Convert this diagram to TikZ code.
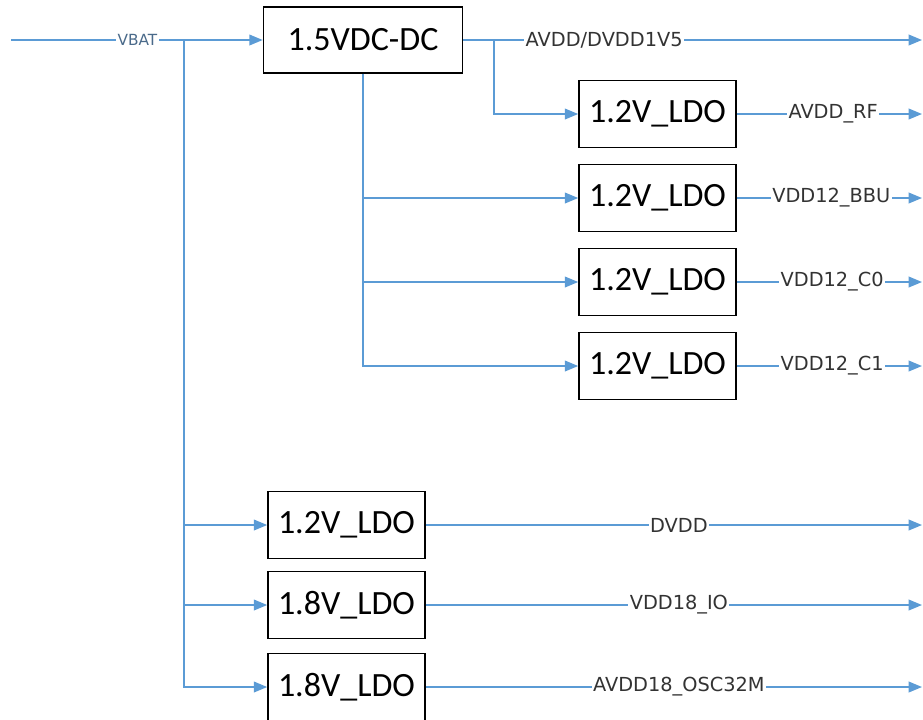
\documentclass[tikz,border=0pt]{standalone}
\usepackage{fontspec}
\setmainfont{Carlito}
\newfontfamily\labelfont{DejaVu Sans}
\usetikzlibrary{arrows.meta}
\definecolor{wirec}{HTML}{5B9BD5}
\definecolor{vbatc}{HTML}{4A6A8A}
\begin{document}
\begin{tikzpicture}[x=0.75pt,y=-0.75pt,
  blk/.style={draw=black, line width=1.2pt, inner sep=0pt, font=\fontsize{25.5}{28}\selectfont},
  dcbox/.style={blk, minimum width=149.25pt, minimum height=49.5pt},
  ldobox/.style={blk, minimum width=117.75pt, minimum height=50.5pt},
  wire/.style={draw=wirec, line width=1.2pt},
  arr/.style={wire, -{Triangle[length=10pt,width=8pt]}},
  lbl/.style={fill=white, inner sep=1pt, text=black!80, font=\labelfont\fontsize{14.5}{17}\selectfont},
  vlbl/.style={fill=white, inner sep=1pt, text=vbatc, font=\labelfont\fontsize{11.5}{14}\selectfont}
]
\useasboundingbox (0,0) rectangle (923,719);

% blocks
\node[dcbox] (dcdc) at (363,40) {1.5VDC-DC};
\node[ldobox] (ldo1) at (657.5,114) {1.2V\_LDO};
\node[ldobox] (ldo2) at (657.5,198) {1.2V\_LDO};
\node[ldobox] (ldo3) at (657.5,282) {1.2V\_LDO};
\node[ldobox] (ldo4) at (657.5,366) {1.2V\_LDO};
\node[ldobox] (ldo5) at (346.5,525) {1.2V\_LDO};
\node[ldobox] (ldo6) at (346.5,605) {1.8V\_LDO};
\node[ldobox] (ldo7) at (346.5,687) {1.8V\_LDO};

% coordinates
\coordinate (vin) at (11,40);
\coordinate (jv) at (184,40);
\coordinate (jd) at (494,40);
\coordinate (o0) at (922,40);
\coordinate (o1) at (922,114);
\coordinate (o2) at (922,198);
\coordinate (o3) at (922,282);
\coordinate (o4) at (922,366);
\coordinate (o5) at (922,525);
\coordinate (o6) at (922,605);
\coordinate (o7) at (922,687);

% VBAT input
\draw[arr] (vin) -- node[vlbl, pos=0.502] {VBAT} (dcdc.west);
\draw[arr] (jv) |- (ldo5.west);
\draw[arr] (jv) |- (ldo6.west);
\draw[arr] (jv) |- (ldo7.west);

% DC-DC outputs
\draw[arr] (dcdc.east) -- node[lbl, pos=0.307] {AVDD/DVDD1V5} (o0);
\draw[arr] (jd) |- (ldo1.west);
\draw[arr] (dcdc.south) |- (ldo2.west);
\draw[arr] (dcdc.south) |- (ldo3.west);
\draw[arr] (dcdc.south) |- (ldo4.west);

% LDO outputs
\draw[arr] (ldo1.east) -- node[lbl, pos=0.52] {AVDD\_RF} (o1);
\draw[arr] (ldo2.east) -- node[lbl, pos=0.51] {VDD12\_BBU} (o2);
\draw[arr] (ldo3.east) -- node[lbl, pos=0.515] {VDD12\_C0} (o3);
\draw[arr] (ldo4.east) -- node[lbl, pos=0.515] {VDD12\_C1} (o4);
\draw[arr] (ldo5.east) -- node[lbl, pos=0.51] {DVDD} (o5);
\draw[arr] (ldo6.east) -- node[lbl, pos=0.51] {VDD18\_IO} (o6);
\draw[arr] (ldo7.east) -- node[lbl, pos=0.51] {AVDD18\_OSC32M} (o7);
\end{tikzpicture}
\end{document}
